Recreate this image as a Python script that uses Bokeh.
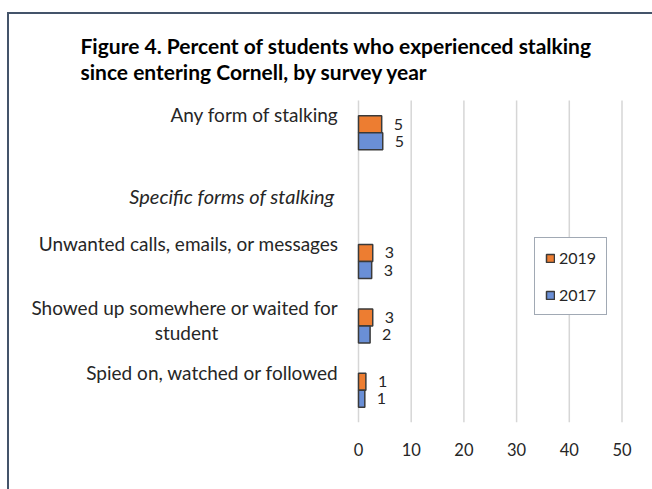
from bokeh.plotting import figure
from bokeh.models import (Range1d, ColumnDataSource, LabelSet, Label, Legend,
                          LegendItem, FixedTicker, InlineStyleSheet)
from bokeh.core.properties import value
from bokeh.embed import file_html
from bokeh.resources import INLINE

# ---------------- data ----------------
title_lines = ["Figure 4. Percent of students who experienced stalking",
               "since entering Cornell, by survey year"]
categories = ["Any form of stalking",
              "Unwanted calls, emails, or messages",
              "Showed up somewhere or waited for\nstudent",
              "Spied on, watched or followed"]
heading = "Specific forms of stalking"
series = ["2019", "2017"]
values_2019 = [4.4, 2.7, 2.7, 1.4]
values_2017 = [4.6, 2.5, 2.2, 1.2]
labels_2019 = ["5", "3", "3", "1"]
labels_2017 = ["5", "3", "2", "1"]
x_ticks = [0, 10, 20, 30, 40, 50]

# ---------------- styles / layout ----------------
FONT = "Lato"
ORANGE = "#ED7D31"
BLUE = "#6A8FD6"
EDGE = "#3A3A3A"
FRAME = "#44546A"
TXT = "#262626"
GRID = "#D6D6D6"

W, H = 652, 489
AXIS_BAND = 67          # space under the plotting area for tick labels
ZERO_PX = 358           # horizontal pixel of value 0
PX_PER_UNIT = 5.27      # pixels per percentage point
ROW_PX = 64.4           # pixels per category row
TOP_PX = 100            # space above the rows (title area)

order = [categories[0], heading] + categories[1:]
n_rows = len(order)
ypos = {name: n_rows - i - 0.5 for i, name in enumerate(order)}
BAR_H = 0.264

p = figure(width=W, height=H, output_backend="svg", toolbar_location=None,
           x_range=Range1d(-ZERO_PX / PX_PER_UNIT, (W - ZERO_PX) / PX_PER_UNIT),
           y_range=Range1d(0, n_rows + TOP_PX / ROW_PX),
           min_border_left=0, min_border_right=0,
           min_border_top=0, min_border_bottom=AXIS_BAND,
           background_fill_color="white", border_fill_color="white")
p.outline_line_color = None
p.yaxis.visible = False
p.grid.visible = False
p.xaxis.ticker = FixedTicker(ticks=x_ticks)
p.xaxis.axis_line_color = None
p.xaxis.major_tick_line_color = None
p.xaxis.minor_tick_line_color = None
p.xaxis.major_label_standoff = 14
p.xaxis.major_label_text_font = FONT
p.xaxis.major_label_text_font_size = "16.5px"
p.xaxis.major_label_text_color = TXT

# vertical gridlines over the row area only
p.segment(x0=x_ticks, x1=x_ticks, y0=[0] * len(x_ticks), y1=[n_rows] * len(x_ticks),
          line_color=GRID, line_width=1.5)

src = ColumnDataSource(dict(
    y19=[ypos[c] + BAR_H / 2 for c in categories],
    y17=[ypos[c] - BAR_H / 2 for c in categories],
    v19=values_2019, v17=values_2017,
    l19=labels_2019, l17=labels_2017,
))

r19 = p.hbar(y="y19", right="v19", left=0, height=BAR_H, source=src,
             fill_color=ORANGE, line_color=EDGE, line_width=1.5)
r17 = p.hbar(y="y17", right="v17", left=0, height=BAR_H, source=src,
             fill_color=BLUE, line_color=EDGE, line_width=1.5)

for xcol, ycol, tcol in (("v19", "y19", "l19"), ("v17", "y17", "l17")):
    p.add_layout(LabelSet(x=xcol, y=ycol, text=tcol, source=src, x_offset=12,
                          text_baseline="middle", text_align="left",
                          text_font=value(FONT), text_font_size=value("16px"),
                          text_color=TXT))

def add_text(txt, y, xo, yo, align, size="19px", style="normal", color=TXT):
    p.add_layout(Label(x=0, y=y, x_offset=xo, y_offset=yo, text=txt,
                       text_align=align, text_baseline="middle",
                       text_font=FONT, text_font_style=style,
                       text_font_size=size, text_color=color))

# category labels (wrapped labels are centred under their first line)
for c in categories:
    lines = c.split("\n")
    add_text(lines[0], ypos[c], -20, 18, "right")
    if len(lines) > 1:
        add_text(lines[1], ypos[c], -172, -7, "center")

add_text(heading, ypos[heading], -24, 1, "right", size="20px", style="italic")

# title
for i, line in enumerate(title_lines):
    add_text(line, n_rows, -278, 55 - 26 * i, "left", size="21px",
             style="bold", color="black")

legend = Legend(items=[LegendItem(label=series[0], renderers=[r19]),
                       LegendItem(label=series[1], renderers=[r17])],
                location=(534, 107), orientation="vertical",
                glyph_width=10, glyph_height=10, label_height=18, spacing=18,
                padding=10, margin=0, label_standoff=4, label_width=37,
                label_text_font=FONT, label_text_font_size="16px",
                label_text_color=TXT,
                border_line_color=FRAME, border_line_width=1.5,
                background_fill_color="white", background_fill_alpha=1)
p.add_layout(legend)

p.stylesheets = [InlineStyleSheet(css="""
:host { position: relative; }
:host::after { content: ''; position: absolute; left: 7px; top: 12px; right: 0; bottom: 0;
  border-left: 2px solid #44546A; border-top: 2px solid #44546A; pointer-events: none; }
""")]

open("out.html", "w").write(file_html(p, INLINE))
